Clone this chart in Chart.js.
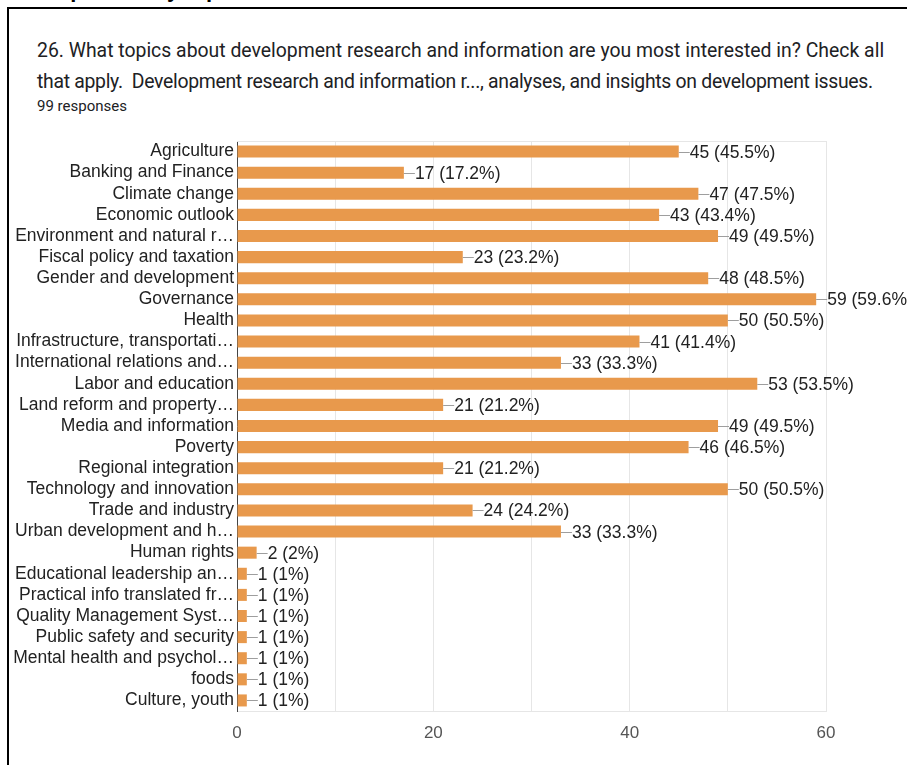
<!DOCTYPE html>
<html>
<head>
<meta charset="utf-8">
<script src="https://cdn.jsdelivr.net/npm/chart.js@4.4.0/dist/chart.umd.min.js"></script>
<style>
  html, body { margin: 0; padding: 0; background: #fff; }
  body { width: 907px; height: 765px; overflow: hidden; position: relative; font-family: "Liberation Sans", Arial, sans-serif; }
  .cut { position: absolute; left: 30px; top: -23px; font: bold 22px "Liberation Sans", Arial, sans-serif; color: #000; }
  .frame { position: absolute; left: 7px; top: 7px; width: 1000px; height: 1000px; border: 2px solid #000; }
  .q { position: absolute; left: 37px; font-family: Roboto, "Liberation Sans", sans-serif; font-size: 19.4px; color: #202124; white-space: nowrap; }
  .resp { position: absolute; left: 37px; top: 97px; font-family: Roboto, "Liberation Sans", sans-serif; font-size: 15px; color: #202124; }
  #wrap { position: absolute; left: 0; top: 0; width: 907px; height: 765px; }
</style>
</head>
<body>
<div class="cut">Responses by topic</div>
<div class="frame"></div>
<div class="q" style="top:39px">26. What topics about development research and information are you most interested in? Check all</div>
<div class="q" style="top:70px; letter-spacing:-0.3px">that apply.&nbsp; Development research and information r..., analyses, and insights on development issues.</div>
<div class="resp">99 responses</div>
<div id="wrap"><canvas id="chart"></canvas></div>
<script>
// Categories and counts
const topics = [
    "Agriculture", "Banking and Finance", "Climate change", "Economic outlook",
    "Environment and natural r\u2026", "Fiscal policy and taxation", "Gender and development",
    "Governance", "Health", "Infrastructure, transportati\u2026", "International relations and\u2026",
    "Labor and education", "Land reform and property\u2026", "Media and information", "Poverty",
    "Regional integration", "Technology and innovation", "Trade and industry",
    "Urban development and h\u2026", "Human rights", "Educational leadership an\u2026",
    "Practical info translated fr\u2026", "Quality Management Syst\u2026", "Public safety and security",
    "Mental health and psychol\u2026", "foods", "Culture, youth"
];
const counts = [45, 17, 47, 43, 49, 23, 48, 59, 50, 41, 33, 53, 21, 49, 46, 21, 50, 24, 33, 2, 1, 1, 1, 1, 1, 1, 1];
const percents = ["45.5%", "17.2%", "47.5%", "43.4%", "49.5%", "23.2%", "48.5%", "59.6%", "50.5%",
    "41.4%", "33.3%", "53.5%", "21.2%", "49.5%", "46.5%", "21.2%", "50.5%", "24.2%", "33.3%",
    "2%", "1%", "1%", "1%", "1%", "1%", "1%", "1%"];
const xTicks = [0, 20, 40, 60];

const barColor = '#e8994c';
const labelFont = '17.5px "Liberation Sans", Arial, sans-serif';

// Light line along the top of the plot area
const plotBox = {
    id: 'plotBox',
    beforeDatasetsDraw(chart) {
        const { ctx, chartArea: a } = chart;
        ctx.save();
        ctx.strokeStyle = '#e6e6e6';
        ctx.lineWidth = 1;
        ctx.beginPath();
        ctx.moveTo(a.left, a.top + 0.5);
        ctx.lineTo(a.right, a.top + 0.5);
        ctx.stroke();
        ctx.restore();
    }
};

// Value labels with a short leader line
const valueLabels = {
    id: 'valueLabels',
    afterDatasetsDraw(chart) {
        const { ctx } = chart;
        const meta = chart.getDatasetMeta(0);
        ctx.save();
        ctx.font = labelFont;
        ctx.textBaseline = 'middle';
        ctx.textAlign = 'left';
        meta.data.forEach((bar, i) => {
            const x = bar.x, y = Math.round(bar.y) + 0.5;
            ctx.strokeStyle = '#9e9e9e';
            ctx.lineWidth = 1;
            ctx.beginPath();
            ctx.moveTo(x, y);
            ctx.lineTo(x + 11, y);
            ctx.stroke();
            ctx.fillStyle = '#222';
            ctx.fillText(counts[i] + ' (' + percents[i] + ')', x + 11, y + 1);
        });
        ctx.restore();
    }
};

const ctx = document.getElementById('chart').getContext('2d');
const chart = new Chart(ctx, {
    type: 'bar',
    data: {
        labels: topics,
        datasets: [{
            data: counts,
            backgroundColor: barColor,
            borderWidth: 0,
            categoryPercentage: 1,
            barPercentage: 0.57
        }]
    },
    options: {
        indexAxis: 'y',
        responsive: true,
        maintainAspectRatio: false,
        animation: false,
        layout: { padding: { top: 141, right: 81, left: 0, bottom: 0 } },
        plugins: {
            legend: { display: false },
            tooltip: { enabled: false }
        },
        scales: {
            x: {
                min: 0,
                max: 60,
                afterFit(s) { s.height = 54; },
                afterBuildTicks(s) {
                    s.ticks = [0, 10, 20, 30, 40, 50, 60].map(v => ({ value: v }));
                },
                ticks: {
                    padding: 12,
                    color: '#555',
                    font: { family: '"Liberation Sans", Arial, sans-serif', size: 17 },
                    callback: v => xTicks.includes(v) ? String(v) : ''
                },
                grid: { color: '#e6e6e6', drawTicks: false },
                border: { color: '#e6e6e6' }
            },
            y: {
                afterFit(s) { s.width = 237; },
                ticks: {
                    autoSkip: false,
                    padding: 3,
                    color: '#222',
                    font: { family: '"Liberation Sans", Arial, sans-serif', size: 17.5 }
                },
                grid: { display: false, drawTicks: false },
                border: { color: '#444', width: 1 }
            }
        }
    },
    plugins: [plotBox, valueLabels]
});
</script>
</body>
</html>
